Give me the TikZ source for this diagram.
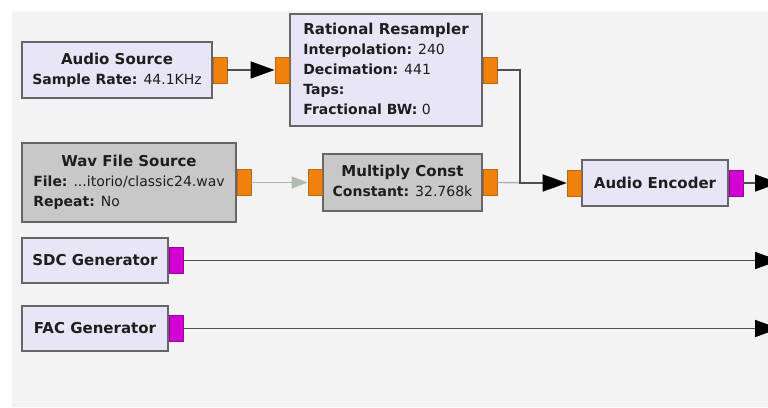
\documentclass[tikz,border=0pt]{standalone}
\usepackage{fontspec}
\setmainfont{DejaVu Sans}
\usetikzlibrary{arrows.meta}
\definecolor{canvas}{HTML}{F3F3F3}
\definecolor{blockfill}{HTML}{E8E5F7}
\definecolor{offfill}{HTML}{C8C8C8}
\definecolor{blockedge}{HTML}{666666}
\definecolor{portorange}{HTML}{F0820C}
\definecolor{portorangeedge}{HTML}{B8681C}
\definecolor{portmagenta}{HTML}{D200D2}
\definecolor{portmagentaedge}{HTML}{9A009A}
\definecolor{wire}{HTML}{505050}
\definecolor{offwire}{HTML}{B0B0B0}
\definecolor{offhead}{HTML}{B2BAB2}
\definecolor{ink}{HTML}{1E1E1E}
% fonts: block names a little larger than parameter lines
\newcommand\namefont{\fontsize{15}{20}\selectfont\bfseries}
\newcommand\paramfont{\fontsize{14}{20}\selectfont}
% block text: centred bold name, parameters set flush left below it
\newcommand\blocklabel[2]{\begin{tabular}{@{}l@{}}\multicolumn{1}{@{}c@{}}{\namefont #1}#2\end{tabular}}
\newcommand\param[2]{\\\paramfont\textbf{#1:}\ifx\relax#2\relax\else{} #2\fi}
\begin{document}
\begin{tikzpicture}[x=1pt,y=-1pt,
  every node/.style={font=\fontsize{15}{20}\selectfont, text=ink},
  block/.style={draw=blockedge, line width=1.2pt, fill=blockfill, inner sep=0pt, rectangle},
  offblock/.style={block, fill=offfill},
  port/.style={rectangle, inner sep=0pt, minimum width=14pt, minimum height=26pt, line width=0.8pt},
  oport/.style={port, fill=portorange, draw=portorangeedge},
  mport/.style={port, fill=portmagenta, draw=portmagentaedge},
  conn/.style={draw=wire, line width=1.7pt, -{Triangle[length=24pt,width=17pt,fill=black,color=black]}},
  offconn/.style={draw=offwire, line width=1.4pt, -{Triangle[length=16pt,width=12pt,fill=offhead,color=offhead]}}]
\clip (0,0) rectangle (768,407);
\fill[white] (0,0) rectangle (768,407);
\fill[canvas] (12,11) rectangle (768,407);

% blocks
\node[block, minimum width=190pt, minimum height=56pt] (as) at (117,70)
  {\blocklabel{Audio Source}{\param{Sample Rate}{44.1KHz}}};
\node[block, minimum width=192pt, minimum height=112pt] (rr) at (386,70)
  {\blocklabel{Rational Resampler}{\param{Interpolation}{240}\param{Decimation}{441}\param{Taps}{}\param{Fractional BW}{0}}};
\node[offblock, minimum width=214pt, minimum height=79pt] (wav) at (129,182.5)
  {\blocklabel{Wav File Source}{\param{File}{...itorio/classic24.wav}\param{Repeat}{No}}};
\node[offblock, minimum width=159pt, minimum height=57pt] (mc) at (402.5,182.5)
  {\blocklabel{Multiply Const}{\param{Constant}{32.768k}}};
\node[block, minimum width=146pt, minimum height=46pt] (ae) at (655,183)
  {\namefont Audio Encoder};
\node[block, minimum width=146pt, minimum height=45pt] (sdc) at (95,260.5)
  {\namefont SDC Generator};
\node[block, minimum width=146pt, minimum height=45pt] (fac) at (95,328.5)
  {\namefont FAC Generator};

% ports
\node[oport, anchor=west] (as-o) at (as.east) {};
\node[oport, anchor=east] (rr-i) at (rr.west) {};
\node[oport, anchor=west] (rr-o) at (rr.east) {};
\node[oport, anchor=west] (wav-o) at (wav.east) {};
\node[oport, anchor=east] (mc-i) at (mc.west) {};
\node[oport, anchor=west] (mc-o) at (mc.east) {};
\node[oport, anchor=east] (ae-i) at (ae.west) {};
\node[mport, anchor=west] (ae-o) at (ae.east) {};
\node[mport, anchor=west] (sdc-o) at (sdc.east) {};
\node[mport, anchor=west] (fac-o) at (fac.east) {};

% bend of the resampler wire and the x of the outgoing streams' free ends
\coordinate (bend) at (520,120);
\coordinate (outx) at (779,0);

% connections
\draw[offconn] (wav-o.east) -- (mc-i.west);
\draw[offconn] (mc-o.east) -- (ae-i.west);
\draw[conn] (as-o.east) -- (rr-i.west);
\draw[conn] (rr-o.east) -- (rr-o.east -| bend) |- (ae-i.west);
\draw[conn] (ae-o.east) -- (ae-o.east -| outx);
\draw[conn] (sdc-o.east) -- (sdc-o.east -| outx);
\draw[conn] (fac-o.east) -- (fac-o.east -| outx);
\end{tikzpicture}
\end{document}
